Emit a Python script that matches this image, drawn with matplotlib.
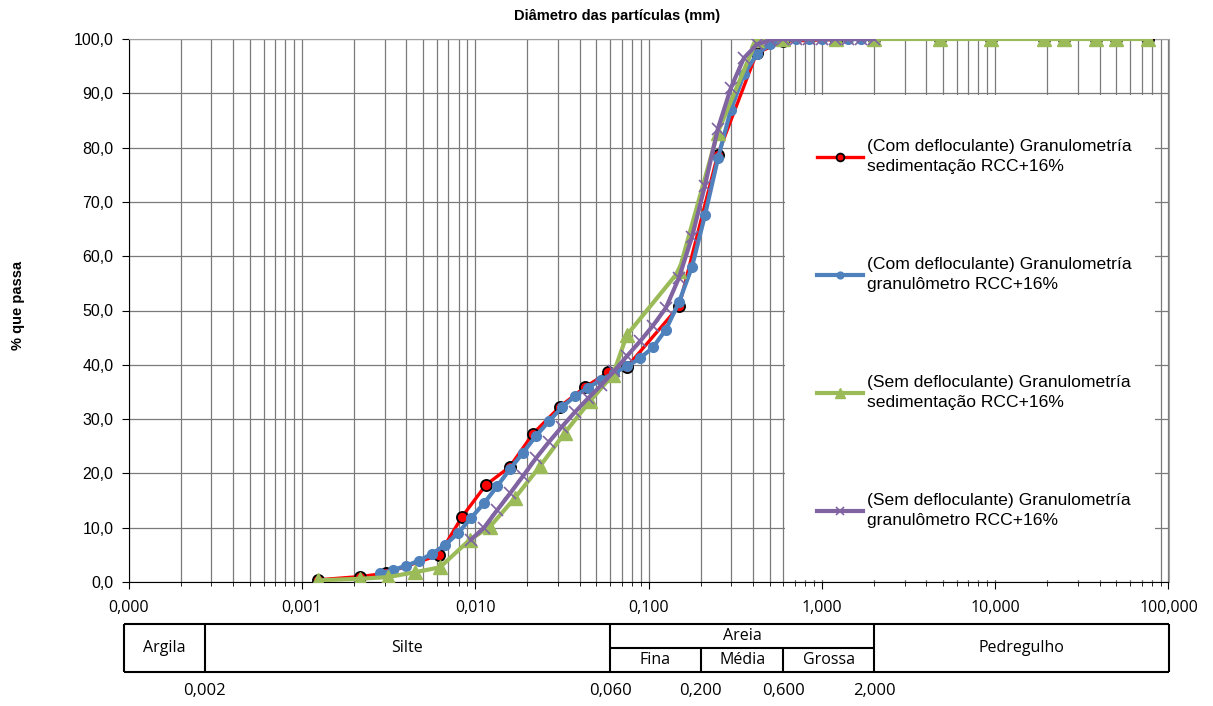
import matplotlib
matplotlib.use("Agg")
import matplotlib.pyplot as plt
from matplotlib.patches import Rectangle
from matplotlib.ticker import FixedLocator, NullFormatter, FuncFormatter

plt.rcParams['font.family'] = ['Liberation Sans', 'DejaVu Sans']

# Sedimentation (com defloculante)
d_sed_com = [0.00124, 0.00216, 0.00305, 0.00618, 0.00838, 0.01153, 0.0158, 0.0215, 0.0308,
             0.043, 0.0583, 0.075, 0.15, 0.25, 0.42, 0.6, 1.2, 2.0, 4.8, 9.5, 19, 25, 38, 50, 76]
p_sed_com = [0.4, 1.0, 1.6, 5.0, 12.0, 17.9, 21.2, 27.3, 32.3,
             35.9, 38.6, 39.6, 50.8, 78.6, 97.4, 99.6, 99.9, 100, 100, 100, 100, 100, 100, 100, 100]

# Granulometer (com defloculante)
d_gran_com = [0.00282, 0.00335, 0.00398, 0.00473, 0.00562, 0.00669, 0.00795, 0.00945, 0.01123,
              0.01334, 0.01585, 0.01884, 0.02239, 0.02661, 0.03162, 0.03758, 0.04467, 0.05309,
              0.0631, 0.07499, 0.08913, 0.1059, 0.1259, 0.1496, 0.1778, 0.2113, 0.2512, 0.2985,
              0.3548, 0.4217, 0.5012, 0.5957, 0.7079, 0.8414, 1.0, 1.189, 1.413, 1.679, 1.995]
p_gran_com = [1.6, 2.2, 3.0, 3.9, 5.2, 6.8, 9.0, 11.8, 14.5,
              17.6, 20.8, 23.8, 26.9, 29.6, 32.2, 34.2, 35.8, 37.2,
              38.5, 39.7, 41.2, 43.2, 46.5, 51.5, 58.0, 67.5, 78.0, 87.0,
              93.5, 97.2, 99.0, 99.7, 100, 100, 100, 100, 100, 100, 100]

# Sedimentation (sem defloculante)
d_sed_sem = [0.00124, 0.00216, 0.00313, 0.00449, 0.00625, 0.00931, 0.01216, 0.01695, 0.0236,
             0.0329, 0.0459, 0.0623, 0.075, 0.15, 0.25, 0.42, 0.6, 1.2, 2.0, 4.8, 9.5, 19, 25, 38, 50, 76]
p_sed_sem = [0.3, 0.6, 0.9, 1.8, 2.7, 7.8, 10.2, 15.5, 21.3,
             27.5, 33.3, 38.2, 45.5, 57.3, 82.7, 99.8, 100, 100, 100, 100, 100, 100, 100, 100, 100, 100]

# Granulometer (sem defloculante)
d_gran_sem = [0.00945, 0.01123, 0.01334, 0.01585, 0.01884, 0.02239, 0.02661, 0.03162, 0.03758,
              0.04467, 0.05309, 0.0631, 0.07499, 0.08913, 0.1059, 0.1259, 0.1496, 0.1778, 0.2113,
              0.2512, 0.2985, 0.3548, 0.4217, 0.5012, 0.5957, 0.7079, 0.8414, 1.0, 1.189, 1.413,
              1.679, 1.995]
p_gran_sem = [7.8, 10.0, 13.2, 16.3, 19.5, 22.8, 25.8, 28.6, 31.3,
              33.8, 36.2, 38.8, 41.6, 44.3, 47.2, 50.5, 56.0, 63.5, 73.0,
              83.5, 91.0, 96.5, 99.0, 99.8, 100, 100, 100, 100, 100, 100,
              100, 100]

labels = ["(Com defloculante) Granulometría\nsedimentação RCC+16%",
          "(Com defloculante) Granulometría\ngranulômetro RCC+16%",
          "(Sem defloculante) Granulometría\nsedimentação RCC+16%",
          "(Sem defloculante) Granulometría\ngranulômetro RCC+16%"]

x_major = [1e-4, 1e-3, 1e-2, 1e-1, 1, 10, 100]
x_minor = [m * d for d in x_major[:-1] for m in range(2, 10)]
y_major = list(range(0, 101, 10))

# soil classification table
class_bounds = [1e-4, 0.000275, 0.06, 0.2, 0.6, 2.0, 100]
bound_labels = ["0,002", "0,060", "0,200", "0,600", "2,000"]

W, H = 1213, 706
fig = plt.figure(figsize=(W / 100, H / 100), dpi=100)
ax = fig.add_axes([128.7 / W, 1 - 582 / H, (1168.5 - 128.7) / W, (582 - 39) / H])

ax.plot(d_sed_com, p_sed_com, color='#FF0000', lw=2.4, marker='o', ms=8,
        mfc='#FF0000', mec='black', mew=1.3, label=labels[0], zorder=3)
ax.plot(d_gran_com, p_gran_com, color='#4F81BD', lw=3.0, marker='o', ms=7,
        mfc='#4F81BD', mec='#4F81BD', label=labels[1], zorder=4)
ax.plot(d_sed_sem, p_sed_sem, color='#9BBB59', lw=3.0, marker='^', ms=10.5,
        mfc='#9BBB59', mec='#9BBB59', label=labels[2], zorder=5)
ax.plot(d_gran_sem, p_gran_sem, color='#8064A2', lw=3.0, marker='x', ms=9,
        mew=1.2, label=labels[3], zorder=6)

ax.set_xscale('log')
ax.set_xlim(1e-4, 100)
ax.set_ylim(0, 100)

ax.xaxis.set_major_locator(FixedLocator(x_major))
ax.xaxis.set_minor_locator(FixedLocator(x_minor))
ax.xaxis.set_minor_formatter(NullFormatter())
ax.xaxis.set_major_formatter(FuncFormatter(lambda v, p: f"{v:.3f}".replace('.', ',')))
ax.yaxis.set_major_locator(FixedLocator(y_major))
ax.yaxis.set_major_formatter(FuncFormatter(lambda v, p: f"{v:.1f}".replace('.', ',')))

ax.set_axisbelow(True)
ax.grid(True, which='major', axis='both', color='#7a7a7a', lw=0.9)
ax.grid(True, which='minor', axis='x', color='#7a7a7a', lw=0.9)

ax.tick_params(axis='y', which='major', direction='out', length=5, labelsize=11.5, pad=6)
ax.tick_params(axis='x', which='major', direction='out', length=5, labelsize=11.5, pad=8)
ax.tick_params(axis='x', which='minor', direction='out', length=3)
for lab in ax.get_xticklabels():
    lab.set_fontfamily('Open Sans')
for s in ['top', 'right']:
    ax.spines[s].set_color('#a0a0a0')
for s in ['left', 'bottom']:
    ax.spines[s].set_color('black')

# white legend area hiding the grid
ax.add_patch(Rectangle((0.631, 0.004), 0.356, 0.893, transform=ax.transAxes,
                       facecolor='white', edgecolor='none', zorder=1))

leg = fig.legend(loc='upper left', bbox_to_anchor=(817 / W, 1 - 139 / H), frameon=False,
                 fontsize=12.6, handlelength=2.6, handletextpad=0.28, labelspacing=4.72,
                 borderpad=0, borderaxespad=0, markerscale=0.7)
for t in leg.get_texts():
    t.set_linespacing(1.45)

fig.text(617 / W, 1 - 16 / H, "Diâmetro das partículas (mm)", ha='center', va='center',
         fontsize=10.5, fontweight='bold')
fig.text(18 / W, 1 - 305 / H, "% que passa", ha='center', va='center', rotation=90,
         fontsize=10.5, fontweight='bold')

# classification table
tax = fig.add_axes([124 / W, 1 - 672 / H, (1168.5 - 124) / W, 48 / H])
tax.set_xscale('log')
tax.set_xlim(0.94e-4, 100)
tax.set_ylim(0, 1)
tax.axis('off')
tk = dict(color='black', lw=1.5, solid_capstyle='butt', clip_on=False)
tax.plot([0.94e-4, 100], [1, 1], **tk)
tax.plot([0.94e-4, 100], [0, 0], **tk)
for b in [0.94e-4, class_bounds[1], class_bounds[2], class_bounds[5], class_bounds[6]]:
    tax.plot([b, b], [0, 1], **tk)
for b in [class_bounds[3], class_bounds[4]]:
    tax.plot([b, b], [0, 0.5], **tk)
tax.plot([class_bounds[2], class_bounds[5]], [0.5, 0.5], **tk)

def gmid(a, b):
    return (a * b) ** 0.5

tf = dict(ha='center', va='center', fontsize=11.5, family='Open Sans')
tax.text(gmid(0.94e-4, class_bounds[1]), 0.5, "Argila", **tf)
tax.text(gmid(class_bounds[1], class_bounds[2]), 0.5, "Silte", **tf)
tax.text(gmid(class_bounds[2], class_bounds[5]), 0.76, "Areia", **tf)
tax.text(gmid(class_bounds[2], class_bounds[3]), 0.24, "Fina", **tf)
tax.text(gmid(class_bounds[3], class_bounds[4]), 0.24, "Média", **tf)
tax.text(gmid(class_bounds[4], class_bounds[5]), 0.24, "Grossa", **tf)
tax.text(gmid(class_bounds[5], class_bounds[6]), 0.5, "Pedregulho", **tf)
for b, lab in zip(class_bounds[1:6], bound_labels):
    tax.text(b, -0.4, lab, ha='center', va='center', fontsize=12, family='Open Sans')

fig.savefig("out.png", dpi=100)
